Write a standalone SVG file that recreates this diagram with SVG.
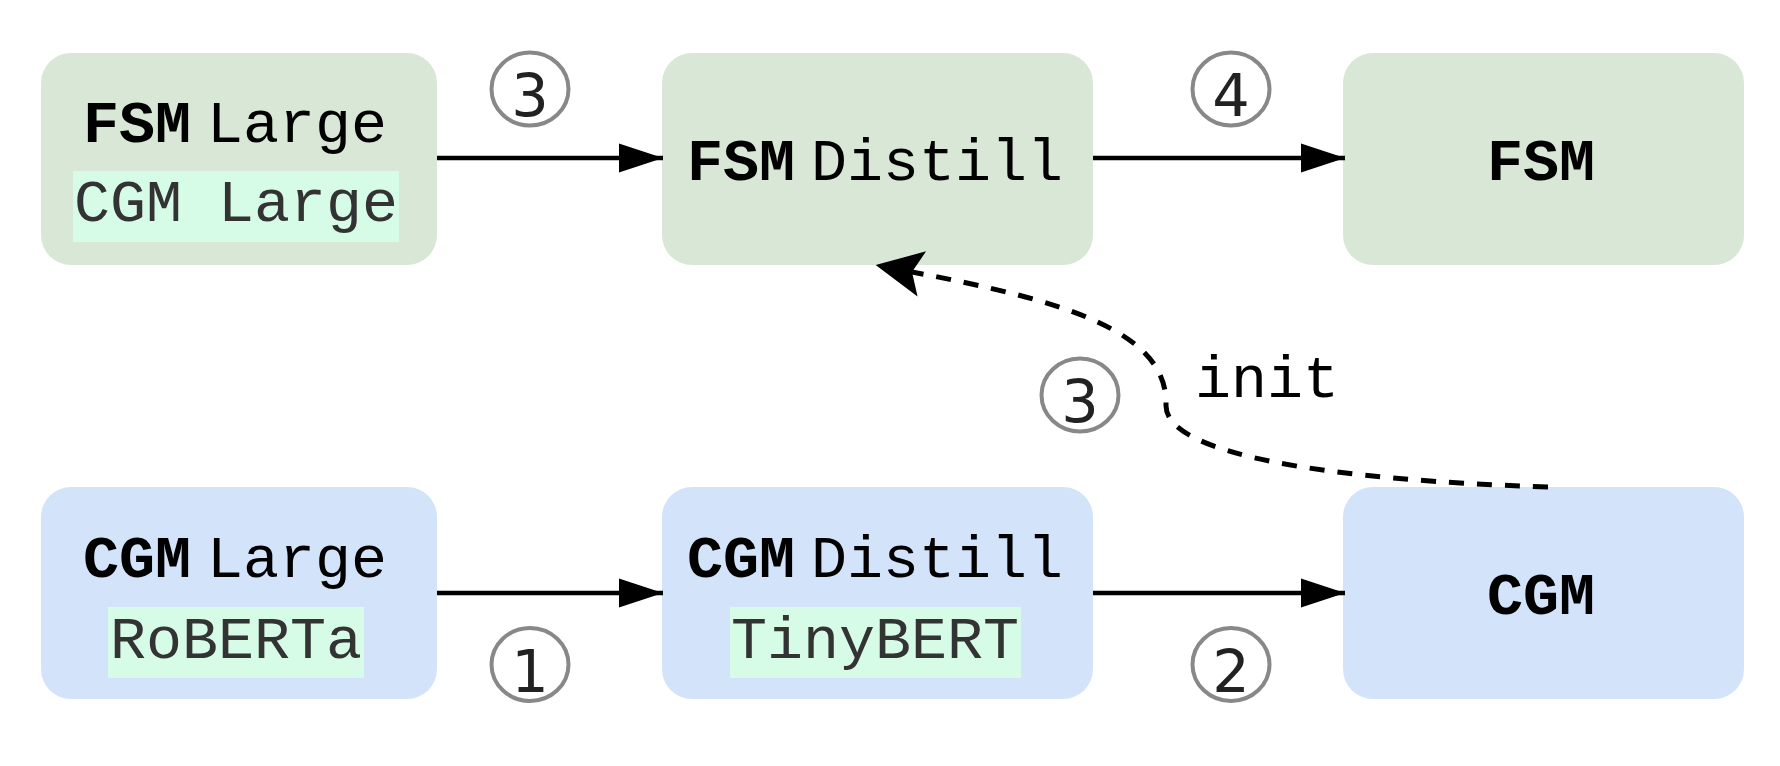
<svg xmlns="http://www.w3.org/2000/svg" width="1780" height="766" viewBox="0 0 1780 766">
<defs>
<style>
.green{fill:#d9e7d6}
.blue{fill:#d3e3fa}
.hl{fill:#d6fce8}
.t{font-family:"Liberation Mono","DejaVu Sans Mono",monospace;font-size:60px;fill:#000}
.b{font-weight:bold}
.g{fill:#333}
.num{font-family:"DejaVu Sans","Liberation Sans",sans-serif;font-size:59px;fill:#222;text-anchor:middle}
.circ{fill:none;stroke:#888;stroke-width:4}
.edge{fill:none;stroke:#000;stroke-width:4.5}
.dash{fill:none;stroke:#000;stroke-width:5;stroke-dasharray:15 13}
</style>
<marker id="arr" markerUnits="userSpaceOnUse" markerWidth="46" markerHeight="30" refX="44" refY="14.5" orient="auto" overflow="visible">
<path d="M0,0 L44,14.5 L0,29 Z" fill="#000"/>
</marker>
<marker id="arrN" markerUnits="userSpaceOnUse" markerWidth="50" markerHeight="48" refX="10" refY="23" orient="auto" overflow="visible">
<path d="M0,0 L47,23 L0,46 L10,23 Z" fill="#000"/>
</marker>
</defs>
<rect width="1780" height="766" fill="#fff"/>

<g id="fsm-large">
<rect class="green" x="41" y="53" width="396" height="212" rx="30"/>
<text class="t" y="142"><tspan class="b" x="83">FSM</tspan><tspan x="207">Large</tspan></text>
<rect class="hl" x="73" y="171" width="326" height="71"/>
<text class="t g" x="74" y="221">CGM Large</text>
</g>

<g id="fsm-distill">
<rect class="green" x="662" y="53" width="431" height="212" rx="30"/>
<text class="t" y="180"><tspan class="b" x="687">FSM</tspan><tspan x="811">Distill</tspan></text>
</g>

<g id="fsm">
<rect class="green" x="1343" y="53" width="401" height="212" rx="30"/>
<text class="t b" x="1487" y="180">FSM</text>
</g>

<g id="cgm-large">
<rect class="blue" x="41" y="487" width="396" height="212" rx="30"/>
<text class="t" y="577"><tspan class="b" x="83">CGM</tspan><tspan x="207">Large</tspan></text>
<rect class="hl" x="108" y="607" width="256" height="71"/>
<text class="t g" x="110" y="658">RoBERTa</text>
</g>

<g id="cgm-distill">
<rect class="blue" x="662" y="487" width="431" height="212" rx="30"/>
<text class="t" y="577"><tspan class="b" x="687">CGM</tspan><tspan x="811">Distill</tspan></text>
<rect class="hl" x="730" y="607" width="291" height="71"/>
<text class="t g" x="731" y="658">TinyBERT</text>
</g>

<g id="cgm">
<rect class="blue" x="1343" y="487" width="401" height="212" rx="30"/>
<text class="t b" x="1487" y="614">CGM</text>
</g>

<g id="connectors">
<path class="edge" d="M437,158 H663" marker-end="url(#arr)"/>
<path class="edge" d="M1093,158 H1345" marker-end="url(#arr)"/>
<path class="edge" d="M437,593 H663" marker-end="url(#arr)"/>
<path class="edge" d="M1093,593 H1345" marker-end="url(#arr)"/>
<path class="dash" d="M1548,487 C1330,480 1165,455 1166,405 C1168,330 1060,300 912,272" marker-end="url(#arrN)"/>
<text class="t" x="1195" y="397">init</text>
</g>

<g id="step-labels">
<ellipse class="circ" cx="530" cy="89" rx="38.5" ry="36.5"/>
<text class="num" x="530" y="116">3</text>
<ellipse class="circ" cx="1231" cy="89" rx="38.5" ry="36.5"/>
<text class="num" x="1231" y="116">4</text>
<ellipse class="circ" cx="1080" cy="395" rx="38.5" ry="36.5"/>
<text class="num" x="1080" y="422">3</text>
<ellipse class="circ" cx="530" cy="664.5" rx="38.5" ry="36.5"/>
<text class="num" x="530" y="691.5">1</text>
<ellipse class="circ" cx="1231" cy="664.5" rx="38.5" ry="36.5"/>
<text class="num" x="1231" y="691.5">2</text>
</g>
</svg>
